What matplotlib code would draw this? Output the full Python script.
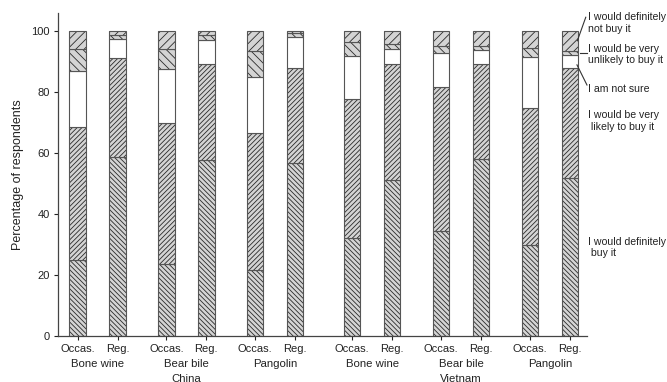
import numpy as np
import matplotlib.pyplot as plt

plt.rcParams['font.family'] = ['Liberation Sans', 'DejaVu Sans']
plt.rcParams['hatch.linewidth'] = 0.6

# data (percent of respondents), order: China BW, BB, PG, Vietnam BW, BB, PG; each Occas./Reg.
users = ['Occas.', 'Reg.']
products = ['Bone wine', 'Bear bile', 'Pangolin']
countries = ['China', 'Vietnam']
definitely = [24.8, 58.8, 23.8, 57.7, 21.6, 56.6, 32.2, 51.1, 34.5, 57.9, 29.8, 51.9]
very_likely = [43.6, 32.4, 45.9, 31.4, 44.9, 31.2, 45.5, 38.0, 47.0, 31.3, 45.1, 35.9]
not_sure = [18.6, 6.3, 17.7, 8.1, 18.5, 10.3, 14.1, 5.0, 11.2, 4.6, 16.5, 4.3]
very_unlikely = [7.0, 1.3, 6.6, 1.5, 8.5, 1.1, 4.7, 1.5, 2.5, 1.3, 2.9, 1.4]
def_not = [6.0, 1.2, 6.0, 1.3, 6.5, 0.8, 3.5, 4.4, 4.8, 4.9, 5.7, 6.5]

# bar positions: pairs 1 apart, gaps between products and a wider one between countries
pair_gap = 1.22
country_gap = 1.43
starts = []
s = 0.0
for c in range(len(countries)):
    for p in range(len(products)):
        starts.append(s)
        s += 1 + (pair_gap if p < len(products) - 1 else country_gap)
x = np.array([[st, st + 1] for st in starts]).ravel()
w = 0.41

segments = [
    (definitely, '#d4d4d4', '\\\\\\\\\\\\\\'),
    (very_likely, '#d4d4d4', '///////'),
    (not_sure, 'white', ''),
    (very_unlikely, '#d4d4d4', '\\\\\\\\'),
    (def_not, '#d4d4d4', '////'),
]

fig = plt.figure(figsize=(6.67, 3.82), dpi=100)
ax = fig.add_axes([0.087, 0.12, 0.793, 0.846])

bottom = np.zeros(len(x))
for vals, fc, hatch in segments:
    vals = np.array(vals)
    ax.bar(x, vals, w, bottom=bottom, color=fc, hatch=hatch, edgecolor='#2a2a2a', linewidth=0)
    ax.bar(x, vals, w, bottom=bottom, fill=False, edgecolor='#555555', linewidth=0.8)
    bottom += vals

ax.set_xlim(-0.49, 12.74)
ax.set_ylim(0, 105.9)
ax.set_yticks([0, 20, 40, 60, 80, 100])
ax.set_xticks(x)
ax.set_xticklabels(users * 6)
ax.tick_params(axis='both', labelsize=8, colors='#222222', length=3, width=0.8, pad=3)
for sp in ['top', 'right']:
    ax.spines[sp].set_visible(False)
for sp in ['left', 'bottom']:
    ax.spines[sp].set_color('#444444')
    ax.spines[sp].set_linewidth(0.9)
ax.set_ylabel('Percentage of respondents', fontsize=9, color='#222222', labelpad=5)

# product and country labels
for i, st in enumerate(starts):
    ax.text(st + 0.5, -9.2, products[i % 3], ha='center', va='center', fontsize=8.2,
            color='#222222', clip_on=False)
for c in range(len(countries)):
    mid = starts[c * 3 + 1] + 0.5
    ax.text(mid, -14.2, countries[c], ha='center', va='center', fontsize=8.2,
            color='#222222', clip_on=False)

# legend labels on right
tx = 12.76
kw = dict(fontsize=7.6, color='#222222', ha='left', va='center', linespacing=1.15)
ax.text(tx, 102.6, 'I would definitely\nnot buy it', **kw)
ax.text(tx, 92.3, 'I would be very\nunlikely to buy it', **kw)
ax.text(tx, 81.0, 'I am not sure', **kw)
ax.text(tx, 70.5, 'I would be very\n likely to buy it', **kw)
ax.text(tx, 29.0, 'I would definitely\n buy it', **kw)
lk = dict(color='#333333', linewidth=0.8, clip_on=False)
ax.plot([12.5, 12.71], [96.8, 104.5], **lk)
ax.plot([12.56, 12.74], [92.8, 92.8], **lk)
ax.plot([12.49, 12.74], [88.9, 82.3], **lk)

fig.savefig('out.png', dpi=100)
